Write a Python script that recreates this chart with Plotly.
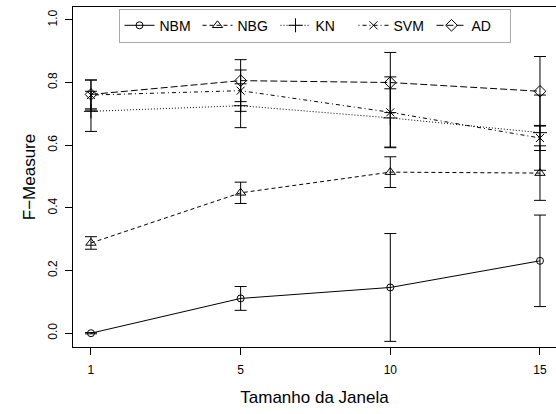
import plotly.graph_objects as go

categories = ["1", "5", "10", "15"]
series_names = ["NBM", "NBG", "KN", "SVM", "AD"]
nbm = [0.0, 0.111, 0.146, 0.231]
nbm_err = [0.002, 0.038, 0.172, 0.146]
nbg = [0.288, 0.448, 0.514, 0.511]
nbg_err = [0.020, 0.034, 0.049, 0.087]
kn = [0.708, 0.726, 0.687, 0.640]
kn_err = [0.064, 0.070, 0.093, 0.120]
svm = [0.760, 0.774, 0.705, 0.623]
svm_err = [0.048, 0.066, 0.113, 0.040]
ad = [0.762, 0.806, 0.800, 0.772]
ad_err = [0.046, 0.067, 0.096, 0.111]
y_ticks = [0.0, 0.2, 0.4, 0.6, 0.8, 1.0]
y_tick_labels = ["0.0", "0.2", "0.4", "0.6", "0.8", "1.0"]

values = [nbm, nbg, kn, svm, ad]
errors = [nbm_err, nbg_err, kn_err, svm_err, ad_err]
symbols = ["circle-open", "triangle-up-open", "cross-thin-open", "x-thin-open", "diamond-open"]
sizes = [7, 9, 10, 8, 9]
dashes = ["solid", "4px,3px", "1px,2px", "1px,3px,4px,3px", "7px,3px"]

fig = go.Figure()
for name, v, e, sym, sz, d in zip(series_names, values, errors, symbols, sizes, dashes):
    fig.add_trace(go.Scatter(
        x=categories, y=v, name=name, mode="lines+markers",
        line=dict(color="black", width=1, dash=d),
        marker=dict(symbol=sym, size=sz, color="black", line=dict(width=1, color="black")),
        error_y=dict(type="data", array=e, visible=True, color="black", thickness=1, width=6),
    ))

font_family = "Liberation Sans, Arial, sans-serif"
fig.update_layout(
    width=556, height=414,
    margin=dict(l=73, r=0, t=7, b=67),
    paper_bgcolor="white", plot_bgcolor="white",
    font=dict(family=font_family, color="black"),
    showlegend=True,
    legend=dict(
        orientation="h", x=0.5, xanchor="center", y=0.995, yanchor="top",
        bordercolor="#aaaaaa", borderwidth=1, bgcolor="white",
        font=dict(size=14, family=font_family), itemwidth=30, entrywidth=33,
    ),
    xaxis=dict(
        type="category", range=[-0.12, 3.107], automargin=False,
        showline=True, linecolor="black", linewidth=1, mirror=True,
        ticks="outside", ticklen=7, tickcolor="black",
        tickfont=dict(size=12), ticklabelstandoff=5,
        showgrid=False, zeroline=False,
        title=dict(text="Tamanho da Janela", font=dict(size=17), standoff=14),
    ),
    yaxis=dict(
        range=[-0.044, 1.041], automargin=False,
        tickvals=y_ticks, ticktext=y_tick_labels, tickangle=-90,
        showline=True, linecolor="black", linewidth=1,
        ticks="outside", ticklen=7, tickcolor="black",
        tickfont=dict(size=12), ticklabelstandoff=3,
        showgrid=False, zeroline=False,
        title=dict(text="F\u2212Measure", font=dict(size=17), standoff=6),
    ),
)

fig.write_html("out.html", config={"displayModeBar": False},
               post_script="document.body.style.margin='0';document.body.style.padding='0';")
